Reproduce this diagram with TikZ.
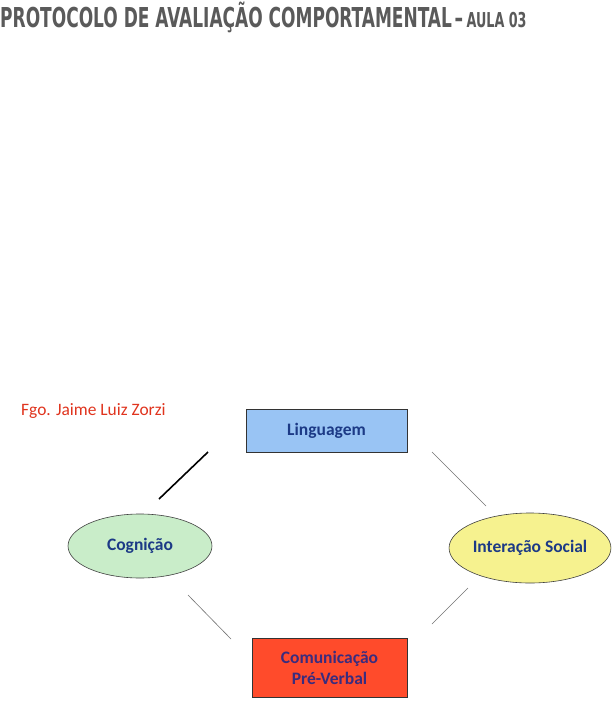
\documentclass[tikz,border=0pt]{standalone}
\usepackage{fontspec}
\setmainfont{Carlito}
\newfontfamily\titlefont{DejaVu Sans Condensed}
\usetikzlibrary{shapes.geometric}
\definecolor{titlegray}{HTML}{5A5A5A}
\definecolor{authred}{HTML}{E0341E}
\definecolor{lingfill}{HTML}{99C4F4}
\definecolor{cogfill}{HTML}{C9EDC9}
\definecolor{intfill}{HTML}{F6F28F}
\definecolor{comfill}{HTML}{FF4B2B}
\definecolor{txtblue}{HTML}{1C3A86}
\definecolor{txtpurple}{HTML}{3A2C7E}
\tikzset{
  boxnode/.style={draw=black!80, line width=0.6pt, inner sep=0pt, font=\bfseries\fontsize{17.5}{21}\selectfont},
  ellnode/.style={ellipse, draw=black!75, line width=0.6pt, inner sep=0pt, font=\bfseries\fontsize{17.5}{21}\selectfont},
  thinlink/.style={draw=black!55, line width=0.6pt},
  thicklink/.style={draw=black, line width=1.6pt}
}
\begin{document}
\begin{tikzpicture}[x=1pt,y=-1pt]
\useasboundingbox[fill=white] (0,0) rectangle (613,709);
% title
\node[anchor=base west, inner sep=0pt, text=titlegray] (title) at (0,27.3)
  {\scalebox{0.69}[1]{\titlefont\bfseries\fontsize{27.4}{30}\selectfont PROTOCOLO DE AVALIAÇÃO COMPORTAMENTAL\hspace{4pt}–\hspace{5pt}\fontsize{20.5}{22}\selectfont AULA 03}};
% author
\node[anchor=base west, inner sep=0pt, text=authred, font=\fontsize{17.4}{20}\selectfont] (author) at (21,415) {Fgo. Jaime Luiz Zorzi};
% nodes
\node[boxnode, fill=lingfill, text=txtblue, minimum width=161pt, minimum height=43pt] (ling) at (326.5,430.5) {Linguagem};
\node[ellnode, fill=cogfill, text=txtblue, minimum width=144pt, minimum height=64pt] (cog) at (140,546) {Cognição};
\node[ellnode, fill=intfill, text=txtblue, minimum width=156pt, minimum height=70pt] (int) at (530,548) {Interação Social};
\node[boxnode, fill=comfill, text=txtpurple, minimum width=155pt, minimum height=59pt, align=center] (com) at (329.5,667.5) {Comunicação\\Pré-Verbal};
% connector ends
\coordinate (a1) at (159,499); \coordinate (a2) at (208,452);
\coordinate (b1) at (432,452); \coordinate (b2) at (486,506);
\coordinate (c1) at (188,595); \coordinate (c2) at (231,639);
\coordinate (d1) at (468,588); \coordinate (d2) at (432,624);
\draw[thicklink] (a1) -- (a2);
\draw[thinlink] (b1) -- (b2);
\draw[thinlink] (c1) -- (c2);
\draw[thinlink] (d1) -- (d2);
\end{tikzpicture}
\end{document}
